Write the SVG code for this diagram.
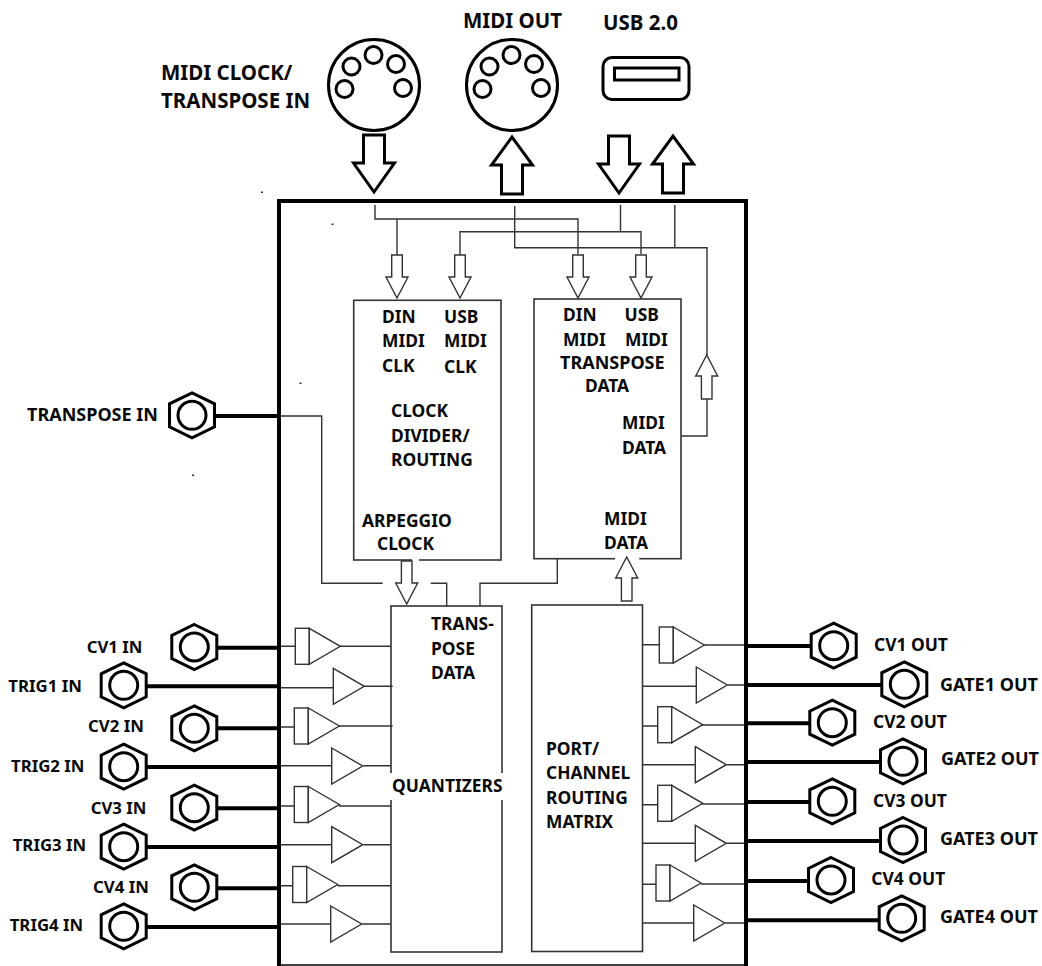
<svg xmlns="http://www.w3.org/2000/svg" width="1042" height="966" viewBox="0 0 1042 966">
<style>
text{font-family:"Noto Sans","Open Sans","Liberation Sans",sans-serif;font-weight:700;font-size:17.4px;fill:#0a0a0a}
.big{font-size:20.500px}
.w{font-size:18px}
.n{font-size:16.800px}
.thin{fill:none;stroke:#333;stroke-width:1.400}
.thick{fill:none;stroke:#000;stroke-width:4}
.box{fill:#fff;stroke:#333;stroke-width:1.600}
.open{fill:#fff;stroke:#333;stroke-width:1.400;stroke-linejoin:miter}
.fat{fill:#fff;stroke:#000;stroke-width:3;stroke-linejoin:miter}
.jack{fill:#fff;stroke:#000;stroke-width:3}
.din{fill:#fff;stroke:#000;stroke-width:3}
.gap{fill:#fff}
.speck{fill:#333}
</style>
<defs>
<g id="jack"><polygon class="jack" points="0,-22.500 22.500,-11.500 22.500,11.500 0,22.500 -22.500,11.500 -22.500,-11.500"/><circle class="jack" r="14"/></g>
<g id="din"><circle class="din" r="45.500"/><circle class="din" cx="-0.500" cy="-30" r="8.500"/><circle class="din" cx="-22.500" cy="-18.500" r="8.500"/><circle class="din" cx="22" cy="-21" r="8.500"/><circle class="din" cx="-29.500" cy="4" r="8.500"/><circle class="din" cx="29" cy="3" r="8.500"/></g>
<path id="fatdown" class="fat" d="M-10.500,-57V-29H-20.500L0,0L20.500,-29H10.500V-57Z"/>
<path id="fatup" class="fat" d="M-10.500,57V28H-20.500L0,0L20.500,28H10.500V57Z"/>
<path id="opendown" class="open" d="M-5.300,-43V-21H-11L0,0L11,-21H5.300V-43Z"/>
<path id="openup" class="open" d="M-5.300,44V21H-11L0,0L11,21H5.300V44Z"/>
<g id="ampcv"><rect class="open" x="-14" y="-18" width="14" height="36"/><polygon class="open" points="0,-18 31,0 0,18"/></g>
<polygon id="amp" class="open" points="0,-18 31,0 0,18"/>
</defs>

<g id="clock-divider"><rect class="box" x="353.700" y="300.300" width="147.300" height="259.700"/><rect class="gap" x="412" y="558" width="7" height="4"/>
<text x="382" y="322.700">DIN</text><text x="382" y="347.300">MIDI</text><text x="382" y="371.700">CLK</text><text x="444" y="322.700">USB</text><text x="444" y="347.300">MIDI</text><text x="444" y="373.300">CLK</text><text x="391" y="416.700">CLOCK</text><text x="391" y="441.700">DIVIDER/</text><text x="391" y="465.700">ROUTING</text><text x="362" y="527.300">ARPEGGIO</text><text x="377" y="550">CLOCK</text></g>
<g id="midi-processor"><rect class="box" x="534" y="299" width="147" height="259.700"/><rect class="gap" x="615" y="556" width="24.300" height="5"/>
<text x="563" y="321.300">DIN</text><text x="563" y="345.700">MIDI</text><text x="624.500" y="321.300">USB</text><text x="625" y="345.700">MIDI</text><text class="w" x="560" y="369">TRANSPOSE</text><text x="585" y="392">DATA</text><text x="622" y="429.300">MIDI</text><text x="622" y="453.700">DATA</text><text x="604" y="525">MIDI</text><text x="604" y="549">DATA</text></g>
<g id="quantizers"><rect class="box" x="391" y="606" width="111" height="346"/><rect class="gap" x="388" y="773" width="118" height="27"/>
<text x="431" y="630">TRANS-</text><text x="431" y="655">POSE</text><text x="431" y="679">DATA</text><text x="392" y="792">QUANTIZERS</text></g>
<g id="routing-matrix"><rect class="box" x="531.700" y="605" width="110.800" height="346.500"/>
<text x="546" y="755">PORT/</text><text x="546" y="779">CHANNEL</text><text x="546" y="804">ROUTING</text><text x="546" y="828">MATRIX</text></g>

<g id="connectors">
<path class="thin" d="M375,205V219H578V254M397,219V255M620.500,205V231.700M460,255V231.700H641V254M514.700,206V247.700H707V355M674.800,205V247.700M707,397V436H681"/>
<path class="thin" d="M216,416H321.700V583.300H382.700M430.700,583.300H446.700V606M557.300,558.700V583.300H480V606"/>
<path class="thick" d="M216,416H279M218,647.700H279M147,686.300H279M218,728.300H279M147,767H279M218,808.300H279M147,847H279M218,888.300H279M147,927H279"/>
<path class="thick" d="M746,646H810M746,685H881M746,723.300H809M746,762H880M746,802H809M746,841H880M746,881H808M746,920.300H878"/>
<path class="thin" d="M281,646.300H295M340,646.300H391M281,687.700H333M364.300,686.300H392.700M281,727H294M338.300,726H392.700M281,765.700H332M363.300,765.700H391M281,806H294M339,806H391M281,844.700H332M363.300,844.700H391M281,885.700H293M337.700,885.700H391M281,924H331M362.300,924H391"/>
<path class="thin" d="M642.700,644.700H659M703.300,645H746M642.700,686.300H696M727.700,685H746M642.700,726H658M701.700,725H746M642.700,764.700H695M726.700,764.700H746M642.700,804.700H658M702.300,804H746M642.700,843.300H695M726.700,843.300H746M642.700,884.300H656M701,884H746M642.700,923H694M725.300,923H746"/>
</g>

<g id="enclosure"><path fill="none" stroke="#000" stroke-width="4" d="M279,966V201H746V966"/><path fill="none" stroke="#000" stroke-width="1.500" d="M279,965H746"/></g>

<g id="midi-clock-in"><use href="#din" x="374" y="85"/><text class="big" x="161" y="80">MIDI CLOCK/</text><text class="big" x="161" y="108">TRANSPOSE IN</text></g>
<g id="midi-out"><use href="#din" x="512" y="85"/><text class="big" x="463" y="28">MIDI OUT</text></g>
<g id="usb"><rect x="603" y="57.500" width="86" height="42" rx="9" fill="#fff" stroke="#000" stroke-width="3"/><rect x="614.500" y="68" width="64.500" height="12" fill="#fff" stroke="#000" stroke-width="3"/><text class="big" x="603" y="29.500">USB 2.0</text></g>
<g id="arrows-top"><use href="#fatdown" x="374" y="192"/><use href="#fatup" x="512" y="137"/><use href="#fatdown" x="619" y="193"/><use href="#fatup" x="673" y="136"/></g>

<g id="arrows-inner"><use href="#opendown" x="397" y="298"/><use href="#opendown" x="460" y="298"/><use href="#opendown" x="578" y="298"/><use href="#opendown" x="641" y="298"/><use href="#openup" x="706.700" y="355"/><use href="#opendown" x="406.700" y="604"/><use href="#openup" x="626.700" y="557"/></g>

<g id="amps-in"><use href="#ampcv" x="309.300" y="646.300"/><use href="#amp" x="333.300" y="686.300"/><use href="#ampcv" x="308.300" y="726"/><use href="#amp" x="331.700" y="766"/><use href="#ampcv" x="308.300" y="804.500"/><use href="#amp" x="331.700" y="844.700"/><use href="#ampcv" x="306.700" y="884.500"/><use href="#amp" x="330.700" y="924"/></g>
<g id="amps-out"><use href="#ampcv" x="673.300" y="645"/><use href="#amp" x="696.300" y="685"/><use href="#ampcv" x="671.700" y="724.700"/><use href="#amp" x="695.300" y="764.700"/><use href="#ampcv" x="671.700" y="803.300"/><use href="#amp" x="695.300" y="843.300"/><use href="#ampcv" x="670" y="883"/><use href="#amp" x="693.700" y="923"/></g>

<g id="transpose-in"><use href="#jack" x="192" y="415.300"/><text class="w" x="27" y="420.500">TRANSPOSE IN</text></g>
<g id="cv1-in"><use href="#jack" x="194.300" y="647"/><text class="n" x="86.700" y="653.300">CV1 IN</text></g>
<g id="trig1-in"><use href="#jack" x="123.700" y="685.300"/><text class="n" x="8.300" y="692.300">TRIG1 IN</text></g>
<g id="cv2-in"><use href="#jack" x="194.300" y="728.300"/><text class="n" x="88" y="732.300">CV2 IN</text></g>
<g id="trig2-in"><use href="#jack" x="123.700" y="766.700"/><text class="n" x="11" y="772">TRIG2 IN</text></g>
<g id="cv3-in"><use href="#jack" x="194.300" y="807.700"/><text class="n" x="90.700" y="814.300">CV3 IN</text></g>
<g id="trig3-in"><use href="#jack" x="123.700" y="846.700"/><text class="n" x="12.700" y="851.300">TRIG3 IN</text></g>
<g id="cv4-in"><use href="#jack" x="194.300" y="887.300"/><text class="n" x="93" y="892.700">CV4 IN</text></g>
<g id="trig4-in"><use href="#jack" x="123.700" y="926.300"/><text class="n" x="9.700" y="931.300">TRIG4 IN</text></g>

<g id="cv1-out"><use href="#jack" x="833.700" y="645.700"/><text x="874" y="651">CV1 OUT</text></g>
<g id="gate1-out"><use href="#jack" x="904.300" y="684.300"/><text class="w" x="940" y="690.700">GATE1 OUT</text></g>
<g id="cv2-out"><use href="#jack" x="832.300" y="722.700"/><text x="873" y="728.300">CV2 OUT</text></g>
<g id="gate2-out"><use href="#jack" x="903" y="761.300"/><text class="w" x="941" y="765.300">GATE2 OUT</text></g>
<g id="cv3-out"><use href="#jack" x="832.300" y="801.300"/><text x="873" y="806.700">CV3 OUT</text></g>
<g id="gate3-out"><use href="#jack" x="903" y="840"/><text class="w" x="940" y="845.300">GATE3 OUT</text></g>
<g id="cv4-out"><use href="#jack" x="831" y="880"/><text x="871.300" y="885">CV4 OUT</text></g>
<g id="gate4-out"><use href="#jack" x="901.700" y="918.300"/><text class="w" x="940" y="923.300">GATE4 OUT</text></g>

<g id="specks"><rect class="speck" x="261" y="191.500" width="2" height="1.500"/><rect class="speck" x="331.500" y="223.500" width="2" height="1.500"/><rect class="speck" x="299.500" y="382.500" width="2" height="1.500"/><rect class="speck" x="192" y="474.500" width="2" height="1.500"/></g>
</svg>
